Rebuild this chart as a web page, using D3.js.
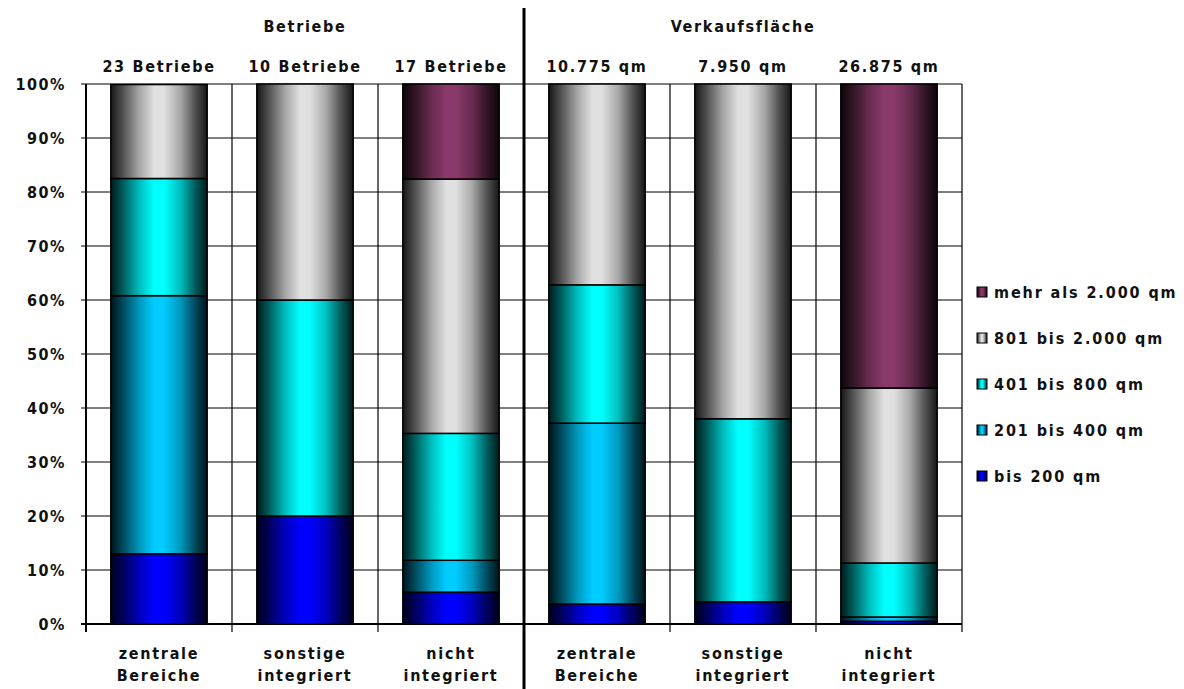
<!DOCTYPE html>
<html><head><meta charset="utf-8">
<script src="https://cdn.jsdelivr.net/npm/d3@7"></script>
<style>
html,body{margin:0;padding:0;background:#fff;}
text{font-family:"DejaVu Sans Condensed","DejaVu Sans",sans-serif;font-weight:bold;fill:#111;}
</style></head>
<body>
<svg id="chart" width="1184" height="689"></svg>
<script>
const categories = ["zentrale|Bereiche","sonstige|integriert","nicht|integriert","zentrale|Bereiche","sonstige|integriert","nicht|integriert"];
const totals = ["23 Betriebe","10 Betriebe","17 Betriebe","10.775 qm","7.950 qm","26.875 qm"];
const groups = ["Betriebe","Verkaufsfläche"];
const seriesNames = ["bis 200 qm","201 bis 400 qm","401 bis 800 qm","801 bis 2.000 qm","mehr als 2.000 qm"];
const seriesColors = ["#0000ff","#00ccff","#00ffff","#e0e0e0","#8a3a6a"];
const bis200   = [13.0, 20.0, 5.9, 3.7, 4.1, 0.5];
const b201_400 = [47.8, 0.0, 5.9, 33.5, 0.0, 0.8];
const b401_800 = [21.7, 40.0, 23.5, 25.6, 33.9, 10.0];
const b801_2000= [17.4, 40.0, 47.1, 37.2, 62.0, 32.4];
const mehr2000 = [0.0, 0.0, 17.6, 0.0, 0.0, 56.3];
const yTicks = [0,10,20,30,40,50,60,70,80,90,100];

(function(){
const seriesValues = [bis200,b201_400,b401_800,b801_2000,mehr2000];
const svg = d3.select("#chart");
const pL = 86, pR = 962, pT = 84, pB = 624;
const x = d3.scaleBand().domain(d3.range(categories.length)).range([pL,pR]).padding(0);
const y = d3.scaleLinear().domain([0,100]).range([pB,pT]);

// gradients
const defs = svg.append("defs");
seriesColors.forEach((c,i)=>{
  const g = defs.append("linearGradient").attr("id","g"+i).attr("x1","0%").attr("x2","100%").attr("y1","0%").attr("y2","0%");
  const base = d3.rgb(c);
  const dk = f => d3.rgb(base.r*f, base.g*f, base.b*f).toString();
  [[0,0.1],[0.12,0.35],[0.3,0.75],[0.45,1],[0.55,1],[0.72,0.75],[0.88,0.35],[1,0.1]].forEach(([o,f])=>{
    g.append("stop").attr("offset",o).attr("stop-color",dk(f));
  });
});

// horizontal gridlines
svg.append("g").selectAll("line").data(yTicks).join("line")
  .attr("x1",pL-5).attr("x2",pR).attr("y1",d=>y(d)).attr("y2",d=>y(d))
  .attr("stroke","#000").attr("stroke-width",d=>d===0?2:1);
// vertical separators
const bounds = d3.range(categories.length+1).map(i=> i<categories.length ? x(i) : pR);
svg.append("g").selectAll("line").data(bounds).join("line")
  .attr("x1",d=>d).attr("x2",d=>d).attr("y1",pT).attr("y2",pB+8)
  .attr("stroke","#000").attr("stroke-width",(d,i)=>i===0?2:1.2);

// y axis labels
svg.append("g").selectAll("text").data(yTicks).join("text")
  .attr("x",66).attr("y",d=>y(d)+6).attr("text-anchor","end")
  .style("font-size","16px").style("letter-spacing","1.5px").text(d=>d+"%");

// bars
const stack = d3.stack().keys(d3.range(seriesNames.length)).value((d,k)=>seriesValues[k][d]);
const stacked = stack(d3.range(categories.length));
const bw = x.bandwidth()*0.66;
stacked.forEach((layer,si)=>{
  svg.append("g").selectAll("rect").data(layer.map((d,i)=>({d,i})).filter(o=>o.d[1]-o.d[0]>0)).join("rect")
    .attr("x",o=>x(o.i)+(x.bandwidth()-bw)/2).attr("width",bw)
    .attr("y",o=>y(o.d[1])).attr("height",o=>y(o.d[0])-y(o.d[1]))
    .attr("fill","url(#g"+si+")").attr("stroke","#000").attr("stroke-width",1.5);
});

// thick divider
svg.append("line").attr("x1",x(3)).attr("x2",x(3)).attr("y1",8).attr("y2",689)
  .attr("stroke","#000").attr("stroke-width",3);

const fs = "16px", ls = "1.7px";
// group headers
svg.append("text").attr("x",(pL+x(3))/2).attr("y",32).attr("text-anchor","middle")
  .style("font-size",fs).style("letter-spacing",ls).text(groups[0]);
svg.append("text").attr("x",(x(3)+pR)/2).attr("y",32).attr("text-anchor","middle")
  .style("font-size",fs).style("letter-spacing",ls).text(groups[1]);
// totals
svg.append("g").selectAll("text").data(totals).join("text")
  .attr("x",(d,i)=>x(i)+x.bandwidth()/2).attr("y",72).attr("text-anchor","middle")
  .style("font-size",fs).style("letter-spacing",ls).text(d=>d);
// category labels
const cl = svg.append("g").selectAll("text").data(categories).join("text")
  .attr("text-anchor","middle").style("font-size",fs).style("letter-spacing",ls);
cl.each(function(d,i){
  const parts = d.split("|");
  parts.forEach((p,j)=>{
    d3.select(this).append("tspan").attr("x",x(i)+x.bandwidth()/2).attr("y",659+j*22).text(p);
  });
});

// legend
const legend = svg.append("g");
const order = [4,3,2,1,0];
order.forEach((si,k)=>{
  const ly = 292 + k*46;
  legend.append("rect").attr("x",977).attr("y",ly-5).attr("width",10).attr("height",10)
    .attr("fill","url(#g"+si+")").attr("stroke","#000").attr("stroke-width",1);
  legend.append("text").attr("x",994).attr("y",ly+6).style("font-size",fs).style("letter-spacing","1.9px").text(seriesNames[si]);
});
})();
</script>
</body></html>
